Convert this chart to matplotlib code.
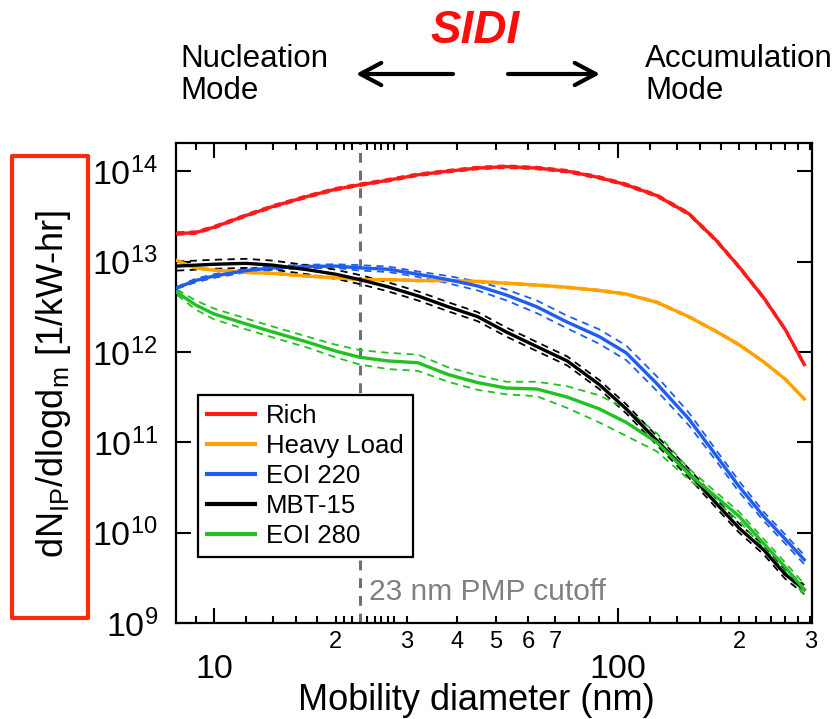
import matplotlib
matplotlib.use("Agg")
import numpy as np
import matplotlib.pyplot as plt
from matplotlib.patches import Rectangle, FancyArrowPatch
from matplotlib.ticker import FixedLocator, FixedFormatter, NullLocator

plt.rcParams['font.family'] = ['Liberation Sans', 'DejaVu Sans']
plt.rcParams['mathtext.default'] = 'regular'

# mobility diameter (nm)
diam = [8.1, 9, 10, 12, 14, 17, 20, 23, 27, 32, 38, 45, 53, 63, 75, 90,
        105, 125, 150, 175, 200, 230, 260, 290]

# log10 of dN/dlogdm in 1/kW-hr, one list per operating point
rich = [13.31, 13.32, 13.38, 13.51, 13.61, 13.72, 13.80, 13.85, 13.90, 13.96,
        14.00, 14.035, 14.05, 14.035, 14.00, 13.93, 13.85, 13.73, 13.53, 13.24,
        12.94, 12.60, 12.25, 11.86]
heavy_load = [13.01, 12.93, 12.905, 12.88, 12.87, 12.84, 12.82, 12.80, 12.80, 12.79,
              12.79, 12.78, 12.76, 12.74, 12.715, 12.68, 12.64, 12.55, 12.39, 12.23,
              12.08, 11.89, 11.70, 11.48]
eoi_220 = [12.71, 12.79, 12.84, 12.90, 12.93, 12.945, 12.95, 12.93, 12.915, 12.86,
           12.80, 12.73, 12.63, 12.50, 12.33, 12.17, 11.99, 11.65, 11.26, 10.86,
           10.51, 10.18, 9.93, 9.70]
mbt_15 = [12.95, 12.96, 12.97, 12.98, 12.96, 12.91, 12.86, 12.80, 12.72, 12.62,
          12.50, 12.39, 12.22, 12.06, 11.90, 11.64, 11.37, 11.02, 10.66, 10.33,
          10.05, 9.81, 9.54, 9.37]
eoi_280 = [12.66, 12.52, 12.42, 12.31, 12.22, 12.11, 12.01, 11.94, 11.90, 11.88,
           11.75, 11.66, 11.60, 11.59, 11.50, 11.37, 11.22, 11.00, 10.65, 10.40,
           10.18, 9.88, 9.62, 9.37]

# run-to-run spread (+/- decades) drawn as dashed lines
rich_spread = 0.015
heavy_load_spread = 0.01
eoi_220_spread = [0.01, 0.02, 0.02, 0.02, 0.02, 0.02, 0.02, 0.03, 0.03, 0.03,
                  0.04, 0.05, 0.06, 0.07, 0.07, 0.08, 0.08, 0.08, 0.07, 0.06,
                  0.06, 0.05, 0.05, 0.05]
mbt_15_spread = 0.05
eoi_280_spread = [0.03, 0.05, 0.06, 0.06, 0.06, 0.06, 0.07, 0.08, 0.09, 0.09,
                  0.08, 0.08, 0.07, 0.08, 0.12, 0.15, 0.15, 0.10, 0.06, 0.05,
                  0.05, 0.05, 0.05, 0.06]

names = ["Rich", "Heavy Load", "EOI 220", "MBT-15", "EOI 280"]
colors = ["#ff1a1a", "#ffa200", "#1f5cf0", "#000000", "#22c022"]

cutoff = 23

minor_ticks = [9, 12, 14, 16, 18, 20, 21, 22, 24, 25, 26, 27, 28, 30, 40, 50, 60,
               70, 80, 90, 120, 140, 160, 180, 200, 220, 240, 260, 280, 300]
minor_labels = ["2" if t == 20 else "3" if t == 30 else "4" if t == 40 else
                "5" if t == 50 else "6" if t == 60 else "7" if t == 70 else
                "2" if t == 200 else "3" if t == 300 else "" for t in minor_ticks]

fig = plt.figure(figsize=(8.4, 7.19), dpi=100)
ax = fig.add_axes([0.2095, 0.1335, 0.7571, 0.6676])

data = [rich, heavy_load, eoi_220, mbt_15, eoi_280]
spreads = [rich_spread, heavy_load_spread, eoi_220_spread, mbt_15_spread, eoi_280_spread]
for name, vals, spread, col in zip(names, data, spreads, colors):
    y = 10 ** np.array(vals)
    f = 10 ** np.array(spread)
    ax.plot(diam, y, color=col, lw=2.4, label=name, zorder=3)
    ax.plot(diam, y * f, color=col, lw=1.3, ls=(0, (4, 3)), zorder=2)
    ax.plot(diam, y / f, color=col, lw=1.3, ls=(0, (4, 3)), zorder=2)

ax.axvline(cutoff, color="#707070", lw=2.2, ls=(0, (3.2, 2.6)), zorder=1)
ax.text(cutoff * 1.054, 2.2e9, f"{cutoff} nm PMP cutoff", color="#808080",
        fontsize=21.5, va="center", ha="left")

ax.set_xscale("log")
ax.set_yscale("log")
ax.set_xlim(8.05, 303)
ax.set_ylim(1e9, 2.05e14)

ax.xaxis.set_major_locator(FixedLocator([10, 100]))
ax.xaxis.set_major_formatter(FixedFormatter(["10", "100"]))
ax.xaxis.set_minor_locator(FixedLocator(minor_ticks))
ax.xaxis.set_minor_formatter(FixedFormatter(minor_labels))
ax.yaxis.set_minor_locator(NullLocator())

ax.tick_params(which="both", direction="in", top=True, right=True, width=1.5)
ax.tick_params(which="major", length=11)
ax.tick_params(which="minor", length=5)
ax.tick_params(axis="x", which="major", labelsize=24.5, pad=22)
ax.tick_params(axis="x", which="minor", labelsize=17, pad=6)
ax.tick_params(axis="y", which="major", labelsize=24.5, pad=13)
for s in ax.spines.values():
    s.set_linewidth(1.6)

ax.set_xlabel("Mobility diameter (nm)", fontsize=26)
ax.xaxis.set_label_coords(0.472, -0.126)
ax.set_ylabel("dN$_{IP}$/dlogd$_m$ [1/kW-hr]", fontsize=26)
ax.yaxis.set_label_coords(-0.193, 0.498)
ax.yaxis.label.set_va("center")

leg = ax.legend(loc="upper left", bbox_to_anchor=(0.0346, 0.475), borderaxespad=0,
                fontsize=18.5, fancybox=False, edgecolor="black", framealpha=1,
                handlelength=1.85, handletextpad=0.45, labelspacing=0.23, borderpad=0.35)
leg.get_frame().set_linewidth(1.6)
for h in leg.legend_handles:
    h.set_linewidth(3)

# red box around the y label
fig.patches.append(Rectangle((12 / 840, 1 - 618 / 719), 76 / 840, 462 / 719,
                             transform=fig.transFigure, fill=False, ec="#ff2a0a",
                             lw=3, joinstyle="round"))

# mode labels and arrows above the plot
fig.text(180 / 840, 1 - 75 / 719, "Nucleation\nMode", fontsize=22.5,
         ha="left", va="center", linespacing=1.05)
fig.text(645 / 840, 1 - 75 / 719, "Accumulation\nMode", fontsize=22.5,
         ha="left", va="center", linespacing=1.05)
fig.text(475 / 840, 1 - 31 / 719, "SIDI", color="#ff0d0d", fontsize=33,
         fontweight="bold", fontstyle="italic", ha="center", va="center")
for x0, x1 in [(453, 356), (508, 600)]:
    fig.add_artist(FancyArrowPatch((x0 / 840, 1 - 74 / 719), (x1 / 840, 1 - 74 / 719),
                                   transform=fig.transFigure,
                                   arrowstyle="->,head_length=0.75,head_width=0.4",
                                   mutation_scale=20, lw=3, color="black",
                                   shrinkA=0, shrinkB=0))

fig.savefig("out.png", dpi=100)
